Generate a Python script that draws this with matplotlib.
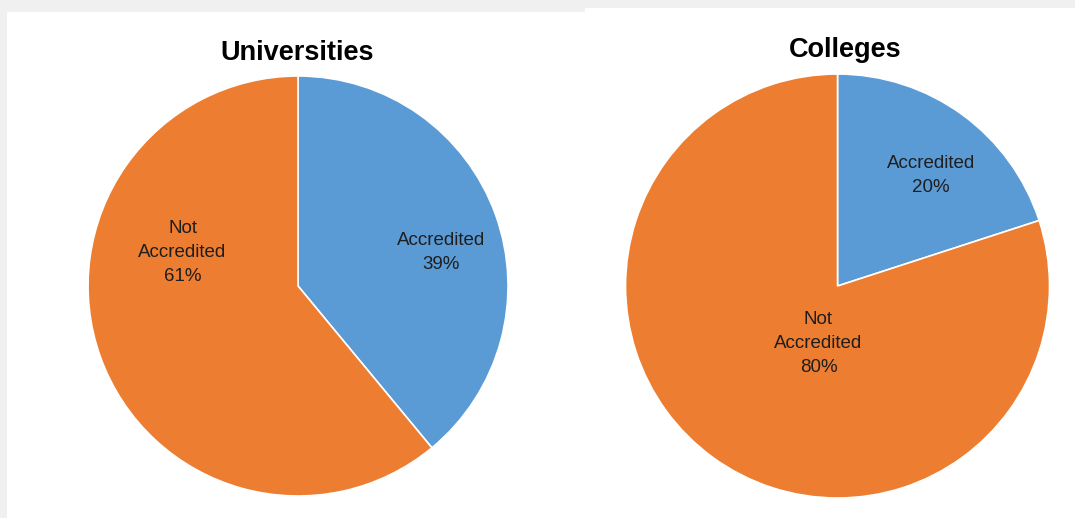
import matplotlib.pyplot as plt
from matplotlib.patches import Rectangle

plt.rcParams['font.family'] = ['Liberation Sans', 'DejaVu Sans']

categories = ['Accredited', 'Not\nAccredited']
universities = [39, 61]
colleges = [20, 80]
colors = ['#5b9bd5', '#ed7d31']

fig = plt.figure(figsize=(10.75, 5.18), dpi=100, facecolor='#f0f0f0')
# white chart panels on the grey background
fig.patches.append(Rectangle((7 / 1075, 0), 578 / 1075, 506 / 518,
                             transform=fig.transFigure, facecolor='white', edgecolor='none', zorder=-5))
fig.patches.append(Rectangle((585 / 1075, 0), 490 / 1075, 510 / 518,
                             transform=fig.transFigure, facecolor='white', edgecolor='none', zorder=-5))


def draw_pie(rect, values, title, label_pos, title_xy):
    ax = fig.add_axes(rect)
    ax.set_zorder(1)
    ax.pie(values, colors=colors, startangle=90, counterclock=False,
           wedgeprops=dict(edgecolor='white', linewidth=1.2))
    for name, v, (x, y) in zip(categories, values, label_pos):
        ax.text(x, y, f'{name}\n{v}%', ha='center', va='center',
                fontsize=13.5, linespacing=1.55, color='#1e1e1e')
    ax.set_xlim(-1, 1)
    ax.set_ylim(-1, 1)
    ax.set_aspect('equal')
    ax.axis('off')
    fig.text(title_xy[0], title_xy[1], title, ha='center', va='center',
             fontsize=19.5, fontweight='bold', zorder=2)


draw_pie([0.0819, 0.0425, 0.3907, 0.8108], universities, 'Universities',
         [(0.68, 0.16), (-0.55, 0.16)], (297 / 1075, 1 - 53 / 518))
draw_pie([0.5819, 0.0386, 0.3944, 0.8185], colleges, 'Colleges',
         [(0.44, 0.52), (-0.09, -0.27)], (845 / 1075, 1 - 50 / 518))

fig.savefig('out.png', dpi=100, facecolor=fig.get_facecolor())
